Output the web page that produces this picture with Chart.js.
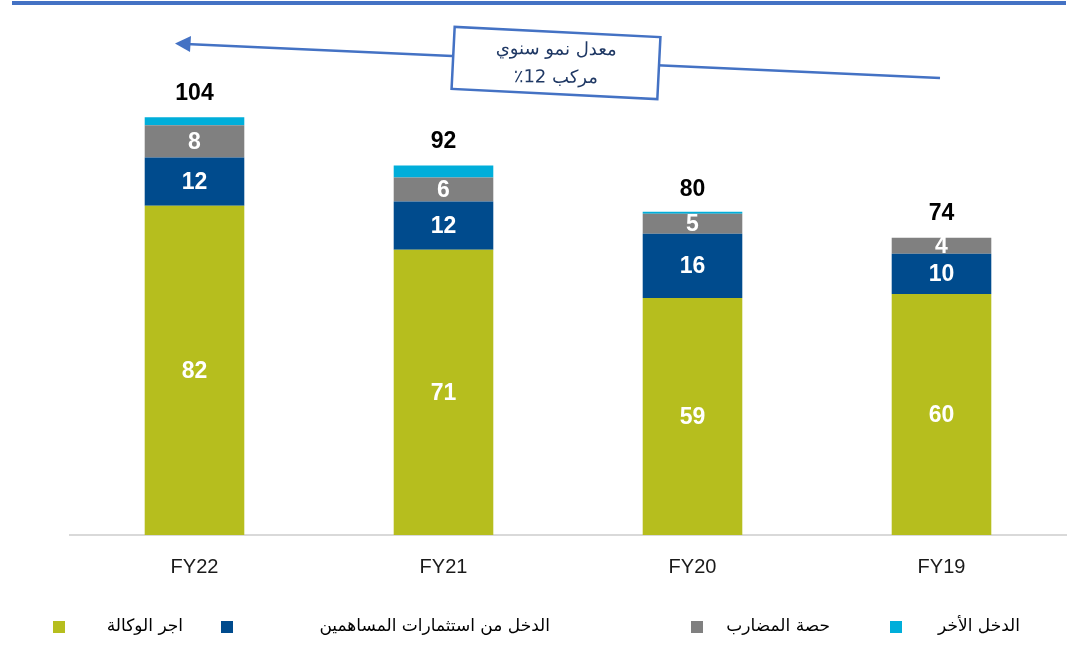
<!DOCTYPE html>
<html>
<head>
  <title>Revenue breakdown</title>
  <style>
    body { margin: 0; background: #fff; }
    #wrap { width: 1079px; height: 647px; }
  </style>
</head>
<body>
  <div id="wrap"><canvas id="chart"></canvas></div>

  <script src="https://cdn.jsdelivr.net/npm/chart.js"></script>
  <script>
    // values
    const categories = ['FY22', 'FY21', 'FY20', 'FY19'];
    const agencyFee = [82, 71, 59, 60];          // اجر الوكالة
    const shareholderIncome = [12, 12, 16, 10];  // الدخل من استثمارات المساهمين
    const mudaribShare = [8, 6, 5, 4];           // حصة المضارب
    const otherIncome = [2, 3, 0.5, 0];          // الدخل الأخر
    const totals = [104, 92, 80, 74];
    const seriesNames = ['اجر الوكالة', 'الدخل من استثمارات المساهمين', 'حصة المضارب', 'الدخل الأخر'];
    const cagrLines = ['معدل نمو سنوي', 'مركب 12٪'];

    const colors = ['#B6BE1E', '#004B8D', '#808080', '#00AEDA'];
    const latin = '"Liberation Sans", Arial, sans-serif';
    const arabic = '"DejaVu Sans", sans-serif';

    // labels inside segments, totals on top
    const labelPlugin = {
      id: 'labels',
      afterDatasetsDraw(chart) {
        const ctx = chart.ctx;
        ctx.save();
        ctx.textAlign = 'center';
        ctx.textBaseline = 'middle';
        ctx.font = 'bold 23px ' + latin;
        ctx.fillStyle = '#fff';
        for (let d = 0; d < 3; d++) {
          const meta = chart.getDatasetMeta(d);
          meta.data.forEach((bar, i) => {
            const v = chart.data.datasets[d].data[i];
            if (!v) return;
            ctx.fillText(String(v), bar.x, (bar.y + bar.base) / 2 + 1);
          });
        }
        ctx.fillStyle = '#000';
        const top = chart.getDatasetMeta(3);
        top.data.forEach((bar, i) => {
          ctx.fillText(String(totals[i]), bar.x, chart.scales.y.getPixelForValue(totals[i]) - 24);
        });
        ctx.restore();
      }
    };

    // header rule, growth arrow + box, legend
    const decorPlugin = {
      id: 'decor',
      afterDraw(chart) {
        const ctx = chart.ctx;
        ctx.save();
        ctx.fillStyle = '#4472C4';
        ctx.fillRect(12, 1, 1054, 4);

        // arrow
        ctx.strokeStyle = '#4472C4';
        ctx.lineWidth = 2.5;
        ctx.beginPath();
        ctx.moveTo(940, 78);
        ctx.lineTo(186, 44);
        ctx.stroke();
        ctx.beginPath();
        ctx.moveTo(175, 43.5);
        ctx.lineTo(191, 36);
        ctx.lineTo(190, 52);
        ctx.closePath();
        ctx.fill();

        // box
        ctx.translate(556, 63);
        ctx.rotate(0.05);
        ctx.fillStyle = '#fff';
        ctx.fillRect(-103, -31, 206, 62);
        ctx.lineWidth = 2.5;
        ctx.strokeRect(-103, -31, 206, 62);
        ctx.rotate(-0.04);
        ctx.fillStyle = '#1F3864';
        ctx.font = '18px ' + arabic;
        ctx.textAlign = 'center';
        ctx.textBaseline = 'middle';
        ctx.direction = 'rtl';
        ctx.fillText(cagrLines[0], 0, -13);
        ctx.fillText(cagrLines[1], 0, 15);
        ctx.setTransform(1, 0, 0, 1, 0, 0);

        // legend
        const squares = [53, 221, 691, 890];
        const textRight = [183, 550, 830, 1020];
        ctx.font = '17px ' + arabic;
        ctx.textBaseline = 'middle';
        ctx.textAlign = 'right';
        ctx.direction = 'rtl';
        seriesNames.forEach((name, i) => {
          ctx.fillStyle = colors[i];
          ctx.fillRect(squares[i], 621, 12, 12);
          ctx.fillStyle = '#000';
          ctx.fillText(name, textRight[i], 627);
        });
        ctx.restore();
      }
    };

    const series = [agencyFee, shareholderIncome, mudaribShare, otherIncome];

    new Chart(document.getElementById('chart'), {
      type: 'bar',
      data: {
        labels: categories,
        datasets: series.map((data, i) => ({
          label: seriesNames[i],
          data: data,
          backgroundColor: colors[i],
          borderWidth: 0,
          categoryPercentage: 0.8,
          barPercentage: 0.5
        }))
      },
      options: {
        responsive: true,
        maintainAspectRatio: false,
        animation: false,
        layout: { padding: { top: 53, left: 70, right: 13, bottom: 0 } },
        plugins: {
          legend: { display: false },
          tooltip: { enabled: false }
        },
        scales: {
          x: {
            stacked: true,
            grid: { display: false, drawTicks: false },
            border: { color: '#D9D9D9', width: 2 },
            ticks: { color: '#1a1a1a', font: { family: latin, size: 20 }, padding: 20 },
            afterFit(scale) { scale.height = 112; }
          },
          y: {
            stacked: true,
            display: false,
            min: 0,
            max: 120
          }
        }
      },
      plugins: [labelPlugin, decorPlugin]
    });
  </script>
</body>
</html>
